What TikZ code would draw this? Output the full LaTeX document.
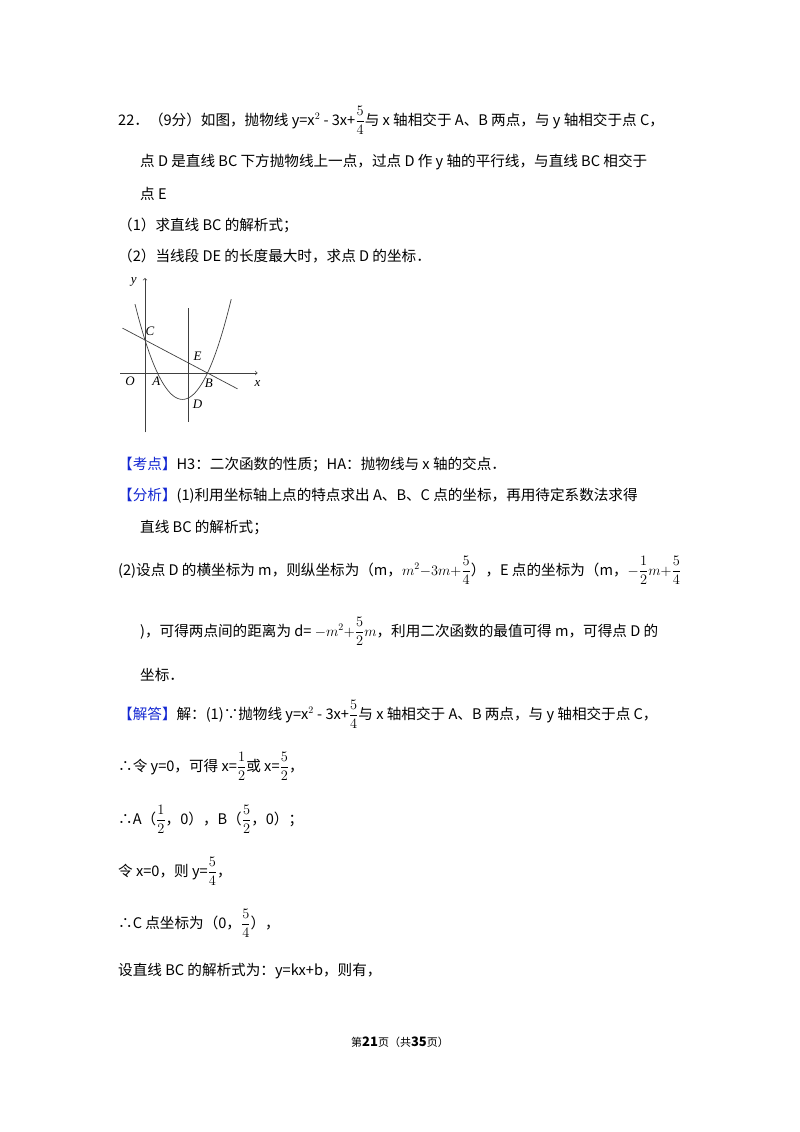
\documentclass[tikz,border=0pt]{standalone}
\usepackage{amsmath}
\usepackage{fontspec}
\setmainfont{Noto Sans CJK SC}
\newfontfamily\lab{Liberation Serif}
\definecolor{kd}{RGB}{20,40,210}
\begin{document}
\begin{tikzpicture}[x=1pt,y=-1pt,
  t/.style={anchor=base west,inner sep=0pt,font=\fontsize{14.6}{17}\selectfont},
  gl/.style={font=\lab\itshape\fontsize{13}{13}\selectfont,inner sep=1pt},
  ax/.style={line width=0.7pt,gray!50!black}]
\useasboundingbox (0,0) rectangle (800,1132);
\fill[white] (0,0) rectangle (800,1132);
\node[t] (l1) at (118,125) {22．（9分）如图，抛物线 y=x$^2$ - 3x+$\dfrac{5}{4}$与 x 轴相交于 A、B 两点，与 y 轴相交于点 C，};
\node[t] (l2) at (140,166) {点 D 是直线 BC 下方抛物线上一点，过点 D 作 y 轴的平行线，与直线 BC 相交于};
\node[t] (l3) at (140,199) {点 E};
\node[t] (l4) at (118,230) {（1）求直线 BC 的解析式；};
\node[t] (l5) at (118,261) {（2）当线段 DE 的长度最大时，求点 D 的坐标．};
% graph
\begin{scope}[shift={(145,373)},x=25pt,y=26.4pt]
\draw[ax,->] (-1,0) -- (4.5,0);
\draw[ax,->] (0,-2.25) -- (0,3.6);
\draw[ax] (1.75,-1.85) -- (1.75,2.45);
\draw[ax] (-0.9,1.7) -- (3.7,-0.6);
\draw[ax,domain=-0.4:3.45,samples=80,smooth] plot (\x,{\x*\x-3*\x+1.25});
\node[gl] (ny) at (-0.45,3.45) {y};
\node[gl] (nx) at (4.5,-0.4) {x};
\node[gl] (nO) at (-0.6,-0.3) {O};
\node[gl] (nA) at (0.45,-0.3) {A};
\node[gl] (nB) at (2.55,-0.4) {B};
\node[gl] (nC) at (0.2,1.6) {C};
\node[gl] (nE) at (2.1,0.65) {E};
\node[gl] (nD) at (2.1,-1.2) {D};
\end{scope}
\node[t] (k1) at (118,469) {\textcolor{kd}{【考点】}H3：二次函数的性质；HA：抛物线与 x 轴的交点．};
\node[t] (k2) at (118,500) {\textcolor{kd}{【分析】}(1)利用坐标轴上点的特点求出 A、B、C 点的坐标，再用待定系数法求得};
\node[t] (k3) at (140,532) {直线 BC 的解析式；};
\node[t] (k4) at (118,575) {(2)设点 D 的横坐标为 m，则纵坐标为（m，$m^2{-}3m{+}\dfrac{5}{4}$），E 点的坐标为（m，$-\dfrac{1}{2}m{+}\dfrac{5}{4}$};
\node[t] (k5) at (140,636) {)，可得两点间的距离为 d= $-m^2{+}\dfrac{5}{2}m$，利用二次函数的最值可得 m，可得点 D 的};
\node[t] (k6) at (140,680) {坐标．};
\node[t] (j1) at (118,719) {\textcolor{kd}{【解答】}解：(1)∵抛物线 y=x$^2$ - 3x+$\dfrac{5}{4}$与 x 轴相交于 A、B 两点，与 y 轴相交于点 C，};
\node[t] (j2) at (118,771) {∴令 y=0，可得 x=$\dfrac{1}{2}$或 x=$\dfrac{5}{2}$，};
\node[t] (j3) at (118,824) {∴A（$\dfrac{1}{2}$，0），B（$\dfrac{5}{2}$，0）；};
\node[t] (j4) at (118,876) {令 x=0，则 y=$\dfrac{5}{4}$，};
\node[t] (j5) at (118,928) {∴C 点坐标为（0，$\dfrac{5}{4}$），};
\node[t] (j6) at (118,975) {设直线 BC 的解析式为：y=kx+b，则有，};
\node[anchor=base,inner sep=0pt,font=\fontsize{11}{13}\selectfont] (ft) at (400,1046) {第\textbf{\fontsize{13}{13}\selectfont 21}页（共\textbf{\fontsize{13}{13}\selectfont 35}页）};
\end{tikzpicture}
\end{document}
